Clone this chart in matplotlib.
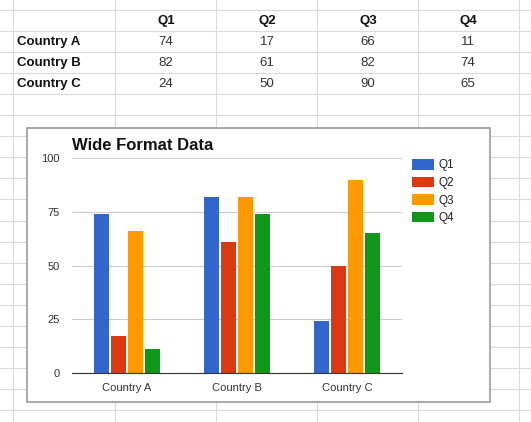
import matplotlib.pyplot as plt
from matplotlib.lines import Line2D
from matplotlib.patches import Rectangle
import numpy as np

countries = ['Country A', 'Country B', 'Country C']
quarters = ['Q1', 'Q2', 'Q3', 'Q4']
q1 = [74, 82, 24]
q2 = [17, 61, 50]
q3 = [66, 82, 90]
q4 = [11, 74, 65]
colors = ['#3366cc', '#dc3912', '#ff9900', '#109618']
title = 'Wide Format Data'

plt.rcParams['font.family'] = ['Liberation Sans', 'DejaVu Sans']

W, H = 531, 422
fig = plt.figure(figsize=(W / 100, H / 100), dpi=100)
fig.patch.set_facecolor('white')


def fx(px):
    return px / W


def fy(py):
    return 1 - py / H


# spreadsheet grid
grid_c = '#dadada'
for k in range(21):
    y = 10 + 21.05 * k
    fig.add_artist(Line2D([0, 1], [fy(y), fy(y)], color=grid_c, lw=0.8, zorder=1))
for x in [13, 115, 216, 317, 418, 519]:
    fig.add_artist(Line2D([fx(x), fx(x)], [0, 1], color=grid_c, lw=0.8, zorder=1))

# table
col_x = [166, 267, 368, 468]
row_y = [21, 42, 63, 84]
for j, q in enumerate(quarters):
    fig.text(fx(col_x[j]), fy(row_y[0]), q, ha='center', va='center',
             fontsize=9.5, fontweight='bold', color='#111', zorder=4)
table = [q1, q2, q3, q4]
for i, c in enumerate(countries):
    fig.text(fx(17), fy(row_y[i + 1]), c, ha='left', va='center',
             fontsize=9.5, fontweight='bold', color='#111', zorder=4)
    for j in range(4):
        fig.text(fx(col_x[j]), fy(row_y[i + 1]), str(table[j][i]), ha='center',
                 va='center', fontsize=9.5, color='#333', zorder=4)

# chart box
box = Rectangle((fx(27), fy(402)), fx(490) - fx(27), fy(128) - fy(402),
                transform=fig.transFigure, facecolor='white', edgecolor='#9a9a9a',
                lw=1.2, zorder=2)
fig.add_artist(box)

# chart
ax = fig.add_axes([fx(72), fy(373), fx(402) - fx(72), fy(158) - fy(373)])
ax.set_zorder(3)
ax.patch.set_alpha(0)
x = np.arange(len(countries))
step = 0.1545
bars = []
for i, (vals, q) in enumerate(zip(table, quarters)):
    b = ax.bar(x + (i - 1.5) * step, vals, width=0.145, color=colors[i], label=q, zorder=3)
    bars.append(b)
ax.set_xlim(-0.5, 2.5)
ax.set_ylim(0, 100)
ax.set_yticks([0, 25, 50, 75, 100])
ax.set_xticks(x)
ax.set_xticklabels(countries)
ax.yaxis.grid(True, color='#cccccc', lw=0.8, zorder=0)
for s in ['top', 'right', 'left']:
    ax.spines[s].set_visible(False)
ax.spines['bottom'].set_color('#333333')
ax.spines['bottom'].set_zorder(4)
ax.tick_params(axis='both', length=0, labelsize=8, colors='#333333')
ax.tick_params(axis='y', pad=9)
ax.tick_params(axis='x', pad=7)

fig.text(fx(72), fy(150), title, ha='left', va='baseline', fontsize=12,
         fontweight='bold', color='#111', zorder=4)

fig.legend(handles=bars, labels=quarters, loc='upper left',
           bbox_to_anchor=(fx(412), fy(159)), frameon=False, fontsize=8.5,
           handlelength=1.85, handleheight=1.0, handletextpad=0.4,
           labelspacing=0.45, borderpad=0, borderaxespad=0, labelcolor='#222')

fig.savefig('out.png', dpi=100)
